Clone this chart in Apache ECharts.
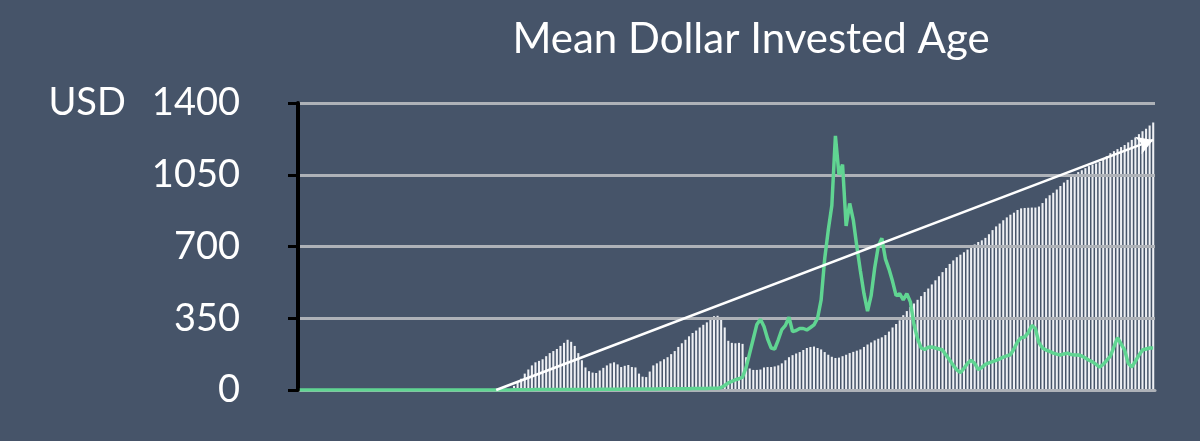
<!DOCTYPE html>
<html>
<head>
<meta charset="utf-8">
<script src="https://cdn.jsdelivr.net/npm/echarts@6/dist/echarts.min.js"></script>
<style>
html,body{margin:0;padding:0;background:#465469;}
#chart{width:1200px;height:441px;}
</style>
</head>
<body>
<div id="chart"></div>
<script>
const title = 'Mean Dollar Invested Age';
const yTicks = [0, 350, 700, 1050, 1400];
const unitLabel = 'USD';

// Mean dollar invested age (bars), one value per period
const investedAge = [
  0,0,0,0,0,0,0,0,0,0, 0,0,0,0,0,0,0,0,0,0,
  0,0,0,0,0,0,0,0,0,0, 0,0,0,0,0,0,0,0,0,0,
  0,0,0,0,0,0,0,0,0,0, 0,0,0,0,0,0,0,0,0,0,
  20,35,55,80,100,120,135,142,150,165,
  180,190,200,215,230,245,235,215,180,145,
  110,92,85,83,95,108,120,130,135,125,
  112,118,122,112,110,80,65,63,90,120,
  130,140,150,160,175,190,210,228,245,262,
  278,290,305,318,330,345,360,362,345,305,
  240,230,228,230,225,160,105,98,98,100,
  110,112,112,115,120,130,145,160,170,178,
  185,195,205,210,212,205,198,185,172,162,
  156,158,165,172,180,186,192,198,210,222,
  232,242,250,257,268,285,305,322,340,365,
  385,405,422,440,458,478,495,515,535,555,
  575,595,615,632,648,660,672,685,697,710,
  722,730,742,760,780,798,812,828,842,855,
  865,878,886,888,889,890,890,895,912,935,
  950,962,978,995,1012,1025,1040,1052,1063,1072,
  1082,1092,1100,1105,1112,1125,1140,1155,1165,1175,
  1185,1195,1208,1220,1232,1248,1262,1275,1290,1305
];

// Price (green line), one value per period
const price = [
  0,0,0,0,0,0,0,0,0,0, 0,0,0,0,0,0,0,0,0,0,
  0,0,0,0,0,0,0,0,0,0, 0,0,0,0,0,0,0,0,0,0,
  0,0,0,0,0,0,0,0,0,0, 0,0,0,0,0,0,0,0,0,0,
  1,1,1,1,1,1,2,2,2,2,
  2,2,2,2,3,3,3,3,3,3,
  3,3,3,3,4,4,4,4,4,4,
  4,5,5,5,5,5,5,5,5,5,
  5,6,6,6,6,6,6,6,6,6,
  7,7,7,7,7,8,8,8,12,22,
  35,42,50,55,63,110,180,250,320,345,
  310,250,205,200,245,295,315,355,285,290,
  300,300,293,305,318,350,440,640,780,900,
  1240,1050,1100,800,910,830,700,580,470,385,
  460,595,700,740,640,590,530,460,470,440,
  470,430,320,250,205,198,208,210,205,200,
  195,170,146,120,98,85,105,130,145,130,
  100,110,125,132,138,145,152,160,166,172,
  200,235,255,258,280,315,300,230,205,195,
  188,180,175,171,176,180,173,171,171,166,
  156,145,137,125,112,125,145,165,210,255,
  225,195,130,112,140,170,195,200,205,205
];

const periods = investedAge.map((v, i) => i);
const trendStartIndex = 55;
const trendEndValue = 1220;

const chart = echarts.init(document.getElementById('chart'));
chart.setOption({
  backgroundColor: '#465469',
  animation: false,
  title: {
    text: title,
    left: 746,
    top: 13,
    textAlign: 'center',
    textStyle: { color: '#ffffff', fontSize: 42, fontWeight: 'normal', fontFamily: 'Lato' }
  },
  grid: { left: 298, right: 45, top: 103, bottom: 51 },
  xAxis: {
    type: 'category',
    data: periods,
    axisLine: { show: true, lineStyle: { color: '#aeb2b8', width: 3 } },
    axisTick: { show: false },
    axisLabel: { show: false },
    splitLine: { show: false }
  },
  yAxis: {
    type: 'value',
    min: 0,
    max: 1400,
    interval: 350,
    z: 3,
    axisLine: { show: true, lineStyle: { color: '#000000', width: 4 } },
    axisTick: { show: true, length: 10, lineStyle: { color: '#000000', width: 3 } },
    axisLabel: {
      margin: 58,
      color: '#ffffff',
      fontSize: 38,
      fontFamily: 'Lato',
      formatter: function (v) {
        return v === yTicks[yTicks.length - 1] ? '{u|' + unitLabel + '}' + v : String(v);
      },
      rich: {
        u: { color: '#ffffff', fontSize: 38, fontFamily: 'Lato', padding: [0, 26, 0, 0] }
      }
    },
    splitLine: { show: true, lineStyle: { color: '#aeb2b8', width: 3 } }
  },
  series: [
    {
      type: 'bar',
      data: investedAge,
      z: 2,
      barCategoryGap: '42%',
      itemStyle: { color: '#eef0f4' },
      silent: true
    },
    {
      type: 'line',
      data: price,
      z: 6,
      symbol: 'none',
      lineStyle: { color: '#60d592', width: 3.5 },
      silent: true,
      markLine: {
        silent: true,
        z: 8,
        symbol: ['none', 'arrow'],
        symbolSize: [14, 16],
        label: { show: false },
        lineStyle: { color: '#ffffff', width: 2.5, type: 'solid' },
        data: [[
          { coord: [trendStartIndex, 0] },
          { coord: [periods.length - 1, trendEndValue] }
        ]]
      }
    }
  ]
});
</script>
</body>
</html>
